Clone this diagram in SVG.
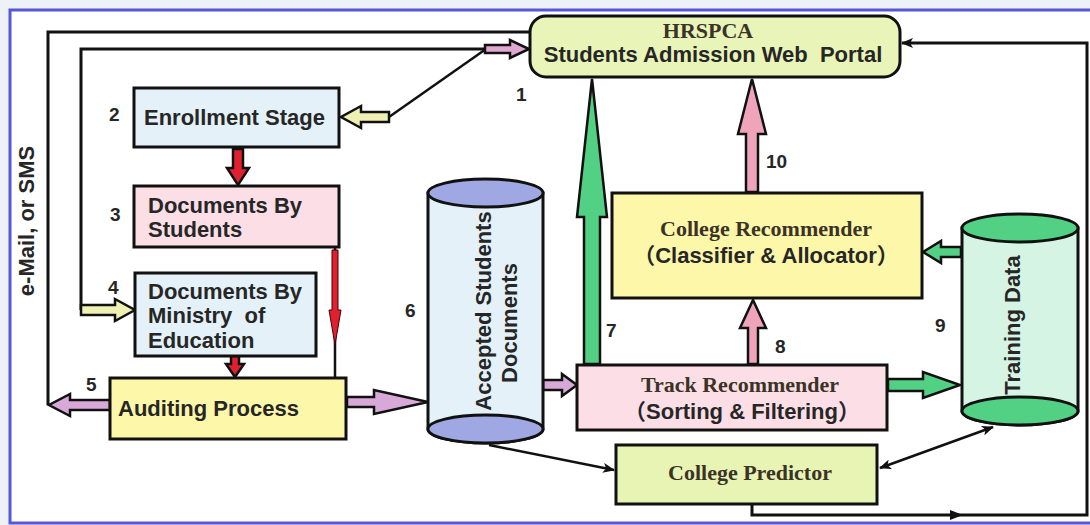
<svg xmlns="http://www.w3.org/2000/svg" width="1090" height="525" viewBox="0 0 1090 525">
<style>
.box{stroke:#111;stroke-width:3}
.sans{font-family:"Liberation Sans",Arial,"Noto Sans CJK SC",sans-serif;font-weight:bold;font-size:22px;fill:#262626}
.serif{font-family:"Liberation Serif","Times New Roman",serif;font-weight:bold;font-size:22px;fill:#3a3326}
.num{font-family:"Liberation Sans",Arial,sans-serif;font-weight:bold;font-size:19px;fill:#262626}
.arr{stroke:#111;stroke-width:2.5;stroke-linejoin:miter}
.ln{fill:none;stroke:#111;stroke-width:3}
.thin{fill:none;stroke:#111;stroke-width:2.5}
</style>
<defs>
<marker id="ah" viewBox="0 0 12 10" refX="11" refY="5" markerWidth="12" markerHeight="10" markerUnits="userSpaceOnUse" orient="auto-start-reverse">
<path d="M0,0 L12,5 L0,10 L3,5 Z" fill="#111"/>
</marker>
</defs>
<rect x="0" y="0" width="1090" height="525" fill="#eef2f8"/>
<rect x="10" y="10" width="1082" height="513" fill="#ffffff" stroke="#5656d8" stroke-width="3"/>

<g id="connectors">
<polyline class="ln" points="531,32 48,32 48,405"/>
<polyline class="ln" points="486,49 81,49 81,310"/>
<line class="thin" x1="389" y1="117" x2="486" y2="49"/>
<polygon class="arr" fill="#e0a8d0" points="485,45 510,45 510,40 529,49 510,58 510,53 485,53"/>
<polygon class="arr" fill="#eef0b4" points="389,112 361,112 361,106 341,117 361,128 361,122 389,122"/>
<polygon class="arr" fill="#eef0b4" points="81,305 115,305 115,299 135,310 115,321 115,315 81,315"/>
<polygon class="arr" fill="#e02030" points="233,149 243,149 243,168 249,168 238,185 227,168 233,168"/>
<line x1="335" y1="247" x2="335" y2="378" stroke="#111" stroke-width="2.5"/>
<polygon fill="#e02030" stroke="#400" stroke-width="1" points="332,250 338,250 338,310 341,310 335,345 329,310 332,310"/>
<polygon class="arr" fill="#e02030" points="231,356 239,356 239,364 244,364 235,377 226,364 231,364"/>
<polygon class="arr" fill="#d8a8d8" points="110,400 70,400 70,394 49,405 70,416 70,410 110,410"/>
<polygon class="arr" fill="#d8a8d8" points="347,397 374,397 374,390 428,402 374,414 374,407 347,407"/>
<polygon class="arr" fill="#d8a8d8" points="543,380 562,380 562,374 577,385 562,396 562,390 543,390"/>
<polygon class="arr" fill="#52d084" points="584,364 584,217 577,217 592,79 607,217 600,217 600,364"/>
<polygon class="arr" fill="#f0a4bc" points="746,192 746,134 738,134 752,79 766,134 758,134 758,192"/>
<polygon class="arr" fill="#f0a4bc" points="748,364 748,328 740,328 753,300 766,328 758,328 758,364"/>
<polygon class="arr" fill="#52d084" points="888,379 923,379 923,372 960,385 923,398 923,391 888,391"/>
<polygon class="arr" fill="#52d084" points="961,247 941,247 941,241 923,252 941,263 941,257 961,257"/>
<line class="thin" x1="489" y1="445" x2="614" y2="470" marker-end="url(#ah)"/>
<line class="thin" x1="880" y1="468" x2="993" y2="427" marker-start="url(#ah)" marker-end="url(#ah)"/>
<polyline class="ln" points="752,504 752,515 1087,515 1087,43 902,43" marker-end="url(#ah)"/>
<path d="M950,510 L963,515 L950,520 Z" fill="#111"/>
</g>

<g id="portal">
<rect class="box" x="530" y="16" width="370" height="61" rx="16" fill="#e8f4b8"/>
<text class="serif" x="708" y="38" text-anchor="middle" font-size="20">HRSPCA</text>
<text class="sans" x="713" y="62" text-anchor="middle" xml:space="preserve">Students Admission Web  Portal</text>
</g>
<text class="num" x="516" y="101">1</text>

<g id="enrollment">
<rect class="box" x="134" y="88" width="205" height="59" fill="#e4f1f8"/>
<text class="sans" x="144" y="125">Enrollment Stage</text>
</g>
<text class="num" x="109" y="121">2</text>

<g id="docs-students">
<rect class="box" x="134" y="186" width="205" height="61" fill="#fcdfe6"/>
<text class="sans" x="148" y="213">Documents By</text>
<text class="sans" x="148" y="237">Students</text>
</g>
<text class="num" x="110" y="221">3</text>

<g id="docs-ministry">
<rect class="box" x="135" y="273" width="181" height="83" fill="#e4f1f8"/>
<text class="sans" x="148" y="299">Documents By</text>
<text class="sans" x="148" y="323" xml:space="preserve">Ministry  of</text>
<text class="sans" x="148" y="348">Education</text>
</g>
<text class="num" x="108" y="294">4</text>

<g id="auditing">
<rect class="box" x="110" y="378" width="236" height="61" fill="#fdf7aa"/>
<text class="sans" x="118" y="416">Auditing Process</text>
</g>
<text class="num" x="86" y="391">5</text>

<g id="accepted-docs">
<path class="box" d="M428,193 L428,429 A57.5,14 0 0 0 543,429 L543,193 Z" fill="#e4f1f8"/>
<ellipse class="box" cx="485.5" cy="193" rx="57.5" ry="14" fill="#a0a8e4"/>
<ellipse class="box" cx="485.5" cy="429" rx="57.5" ry="14" fill="#a0a8e4"/>
<text class="sans" font-size="21" text-anchor="middle" transform="translate(491,311) rotate(-90)">Accepted Students</text>
<text class="sans" font-size="21" text-anchor="middle" transform="translate(517,323) rotate(-90)">Documents</text>
</g>
<text class="num" x="405" y="317">6</text>

<g id="track-recommender">
<rect class="box" x="577" y="365" width="310" height="65" fill="#fcdfe6"/>
<text class="serif" x="740" y="392" text-anchor="middle">Track Recommender</text>
<text class="sans" x="742" y="419" text-anchor="middle">（Sorting &amp; Filtering）</text>
</g>
<text class="num" x="606" y="337">7</text>
<text class="num" x="775" y="353">8</text>

<g id="college-recommender">
<rect class="box" x="612" y="193" width="310" height="105" fill="#fdf7aa"/>
<text class="serif" x="766" y="236" text-anchor="middle">College Recommender</text>
<text class="sans" x="766" y="263" text-anchor="middle">（Classifier &amp; Allocator）</text>
</g>
<text class="num" x="766" y="168">10</text>

<g id="training-data">
<path class="box" d="M962,228 L962,411 A58,14 0 0 0 1078,411 L1078,228 Z" fill="#d6f4e3"/>
<ellipse class="box" cx="1020" cy="228" rx="58" ry="14" fill="#52d084"/>
<ellipse class="box" cx="1020" cy="411" rx="58" ry="14" fill="#52d084"/>
<text class="sans" text-anchor="middle" transform="translate(1020,325) rotate(-90)">Training Data</text>
</g>
<text class="num" x="935" y="332">9</text>

<g id="college-predictor">
<rect class="box" x="616" y="445" width="261" height="59" fill="#e8f4b4"/>
<text class="serif" x="750" y="480" text-anchor="middle">College Predictor</text>
</g>

<text class="sans" font-size="21" text-anchor="middle" transform="translate(34,221) rotate(-90)">e-Mail, or SMS</text>
</svg>
